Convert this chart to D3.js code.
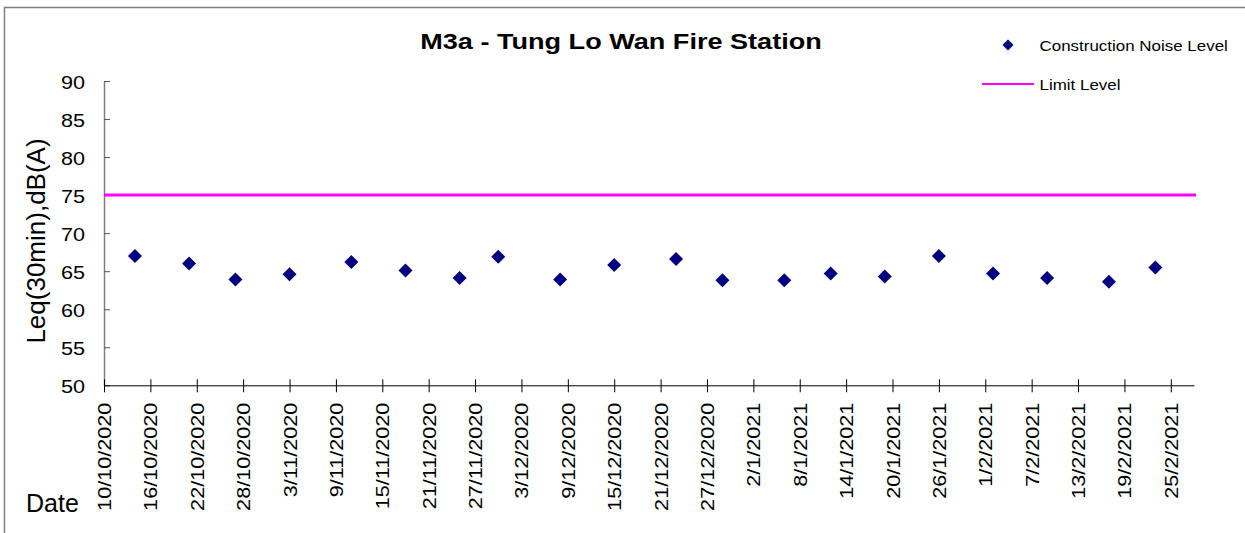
<!DOCTYPE html>
<html>
<head>
<meta charset="utf-8">
<script src="https://cdn.jsdelivr.net/npm/d3@7"></script>
<style>
  body { margin: 0; background: #fff; }
  svg { display: block; font-family: "Liberation Sans", Arial, sans-serif; }
</style>
</head>
<body>
<script>
// measurement dates (d/m/yyyy) and Leq(30min) values
const dates = ["14/10/2020", "21/10/2020", "27/10/2020", "3/11/2020", "11/11/2020",
  "18/11/2020", "25/11/2020", "30/11/2020", "8/12/2020", "15/12/2020",
  "23/12/2020", "29/12/2020", "6/1/2021", "12/1/2021", "19/1/2021",
  "26/1/2021", "2/2/2021", "9/2/2021", "17/2/2021", "23/2/2021"];
const noise = [67.0, 66.0, 63.9, 64.6, 66.2, 65.1, 64.1, 66.9, 63.9, 65.8,
  66.6, 63.8, 63.8, 64.7, 64.3, 67.0, 64.7, 64.1, 63.6, 65.5];
const limitLevel = 75;
const tickLabels = ["10/10/2020", "16/10/2020", "22/10/2020", "28/10/2020", "3/11/2020",
  "9/11/2020", "15/11/2020", "21/11/2020", "27/11/2020", "3/12/2020", "9/12/2020",
  "15/12/2020", "21/12/2020", "27/12/2020", "2/1/2021", "8/1/2021", "14/1/2021",
  "20/1/2021", "26/1/2021", "1/2/2021", "7/2/2021", "13/2/2021", "19/2/2021", "25/2/2021"];
const yTicks = [50, 55, 60, 65, 70, 75, 80, 85, 90];
const xDomain = ["10/10/2020", "28/2/2021"];

const width = 1245, height = 533;
const parse = d3.utcParse("%d/%m/%Y");
const stretch = 1.2; // text in the original is drawn a bit wide

const svg = d3.select("body").append("svg")
  .attr("width", width)
  .attr("height", height);

// chart area border (runs off the right and bottom)
svg.append("rect")
  .attr("x", 4.5).attr("y", 7.5)
  .attr("width", 1300).attr("height", 600)
  .attr("fill", "none")
  .attr("stroke", "#808080")
  .attr("stroke-width", 1.5);

const x = d3.scaleUtc()
  .domain(xDomain.map(parse))
  .range([104, 1194]);

const y = d3.scaleLinear()
  .domain([50, 90])
  .range([385.3, 81]);

// title
svg.append("text")
  .attr("transform", `translate(621,49) scale(1.26,1)`)
  .attr("text-anchor", "middle")
  .attr("font-weight", "bold")
  .attr("font-size", 21.5)
  .text("M3a - Tung Lo Wan Fire Station");

// y axis
const yAxis = svg.append("g")
  .attr("transform", "translate(104,0)")
  .call(d3.axisLeft(y).tickValues(yTicks).tickSize(-6).tickSizeOuter(0));
yAxis.select(".domain").attr("stroke", "#808080").attr("stroke-width", 1.5);
yAxis.selectAll(".tick line").attr("stroke", "#555");
yAxis.selectAll(".tick text")
  .attr("x", null)
  .attr("dy", "0.36em")
  .attr("transform", `translate(-19,1) scale(${stretch},1)`)
  .attr("font-size", 18)
  .attr("font-family", null)
  .attr("fill", "#000");

svg.append("text")
  .attr("transform", `translate(45,241) rotate(-90)`)
  .attr("text-anchor", "middle")
  .attr("font-size", 26)
  .text("Leq(30min),dB(A)");

// x axis
const xAxis = svg.append("g")
  .attr("transform", `translate(0,${y(50)})`)
  .call(d3.axisBottom(x).tickValues(tickLabels.map(parse)).tickSizeOuter(0)
    .tickFormat((d, i) => tickLabels[i]));
xAxis.select(".domain").attr("stroke", "#000");
xAxis.selectAll(".tick line").attr("y1", -6).attr("y2", 7).attr("stroke", "#000");
xAxis.selectAll(".tick text")
  .attr("y", null)
  .attr("dy", "0.36em")
  .attr("text-anchor", "end")
  .attr("transform", `translate(0,17.5) rotate(-90) scale(${stretch},1)`)
  .attr("font-size", 18)
  .attr("font-family", null)
  .attr("fill", "#000");

svg.append("text")
  .attr("x", 26)
  .attr("y", 511.5)
  .attr("font-size", 25)
  .text("Date");

// limit line
svg.append("line")
  .attr("x1", x.range()[0])
  .attr("x2", x.range()[1] + 2)
  .attr("y1", y(limitLevel))
  .attr("y2", y(limitLevel))
  .attr("stroke", "#ff00ff")
  .attr("stroke-width", 3);

// noise points
const diamond = s => `M0,${-s}L${s},0L0,${s}L${-s},0Z`;
svg.append("g")
  .selectAll("path")
  .data(dates.map((d, i) => ({ date: parse(d), value: noise[i] })))
  .join("path")
  .attr("transform", d => `translate(${x(d.date)},${y(d.value)})`)
  .attr("d", diamond(7))
  .attr("fill", "#000080");

// legend
const legend = svg.append("g");
legend.append("path")
  .attr("transform", "translate(1008,45)")
  .attr("d", diamond(5.5))
  .attr("fill", "#000080");
legend.append("text")
  .attr("transform", `translate(1039.5,50.5) scale(1.13,1)`)
  .attr("font-size", 15)
  .text("Construction Noise Level");
legend.append("line")
  .attr("x1", 982).attr("x2", 1034)
  .attr("y1", 84).attr("y2", 84)
  .attr("stroke", "#ff00ff")
  .attr("stroke-width", 2);
legend.append("text")
  .attr("transform", `translate(1039.5,89.5) scale(1.13,1)`)
  .attr("font-size", 15)
  .text("Limit Level");
</script>
</body>
</html>
